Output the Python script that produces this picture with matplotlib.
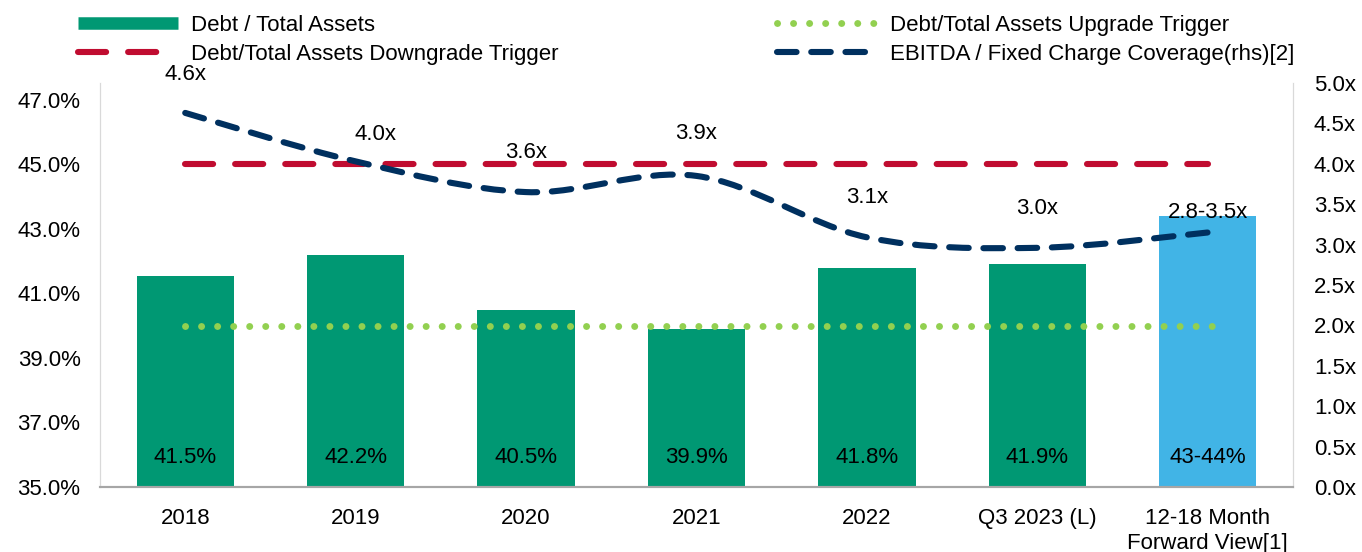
import matplotlib
matplotlib.use("Agg")
import matplotlib.pyplot as plt
from matplotlib.path import Path
from matplotlib.patches import PathPatch
from matplotlib.lines import Line2D
import numpy as np

plt.rcParams['font.family'] = ['Liberation Sans', 'DejaVu Sans']

categories = ["2018", "2019", "2020", "2021", "2022", "Q3 2023 (L)", "12-18 Month\nForward View[1]"]
debt_ratio = [41.55, 42.2, 40.5, 39.9, 41.8, 41.9, 43.4]
debt_labels = ["41.5%", "42.2%", "40.5%", "39.9%", "41.8%", "41.9%", "43-44%"]
coverage = [4.63, 4.03, 3.65, 3.85, 3.09, 2.96, 3.15]
coverage_labels = ["4.6x", "4.0x", "3.6x", "3.9x", "3.1x", "3.0x", "2.8-3.5x"]
downgrade_trigger = 45.0
upgrade_trigger = 40.0

GREEN = "#009873"
BLUE = "#41B4E6"
RED = "#C00C30"
NAVY = "#00305F"
LIME = "#92D050"
FS = 16

fig = plt.figure(figsize=(13.62, 5.52), dpi=100)
ax = fig.add_axes([100/1362, 1-487/552, (1293-100)/1362, (487-83)/552])
ax2 = ax.twinx()

x = np.arange(len(categories))
colors = [GREEN]*(len(categories)-1) + [BLUE]
ax.bar(x, np.array(debt_ratio) - 35, bottom=35, width=0.57, color=colors, zorder=2)
for xi, lab in zip(x, debt_labels):
    ax.text(xi, 35.9, lab, ha='center', va='center', fontsize=FS, color='black', zorder=5)

ax.plot([x[0], x[-1]], [downgrade_trigger]*2, color=RED, lw=4.4,
        dashes=(4.6, 3.6), dash_capstyle='round', zorder=3)
ax.plot([x[0], x[-1]+0.04], [upgrade_trigger]*2, color=LIME, lw=5.0,
        dashes=(0.01, 2.3), dash_capstyle='round', zorder=3)

# smoothed coverage line (cubic Bezier through the data points)
pts = np.column_stack([x.astype(float), np.array(coverage)])
verts = [tuple(pts[0])]
codes = [Path.MOVETO]
n = len(pts)
for i in range(n-1):
    p0 = pts[max(i-1, 0)]
    p1 = pts[i]
    p2 = pts[i+1]
    p3 = pts[min(i+2, n-1)]
    c1 = p1 + (p2 - p0)/6.0
    c2 = p2 - (p3 - p1)/6.0
    verts += [tuple(c1), tuple(c2), tuple(p2)]
    codes += [Path.CURVE4]*3
path = Path(verts, codes)
patch = PathPatch(path, fill=False, edgecolor=NAVY, lw=4.4, capstyle='round',
                  linestyle=(0, (3.2, 2.4)), zorder=4)
ax2.add_patch(patch)

offsets = [(0, 38), (20, 27), (0, 40), (0, 42), (0, 40), (0, 39), (0, 20)]
for xi, v, lab, off in zip(x, coverage, coverage_labels, offsets):
    ax2.annotate(lab, (xi, v), xytext=off, textcoords='offset pixels',
                 ha='center', va='center', fontsize=FS, color='black', zorder=6)

ax.set_xlim(-0.5, len(categories)-0.5)
ax.set_ylim(35, 47.52)
ax2.set_ylim(0, 5.0)
ax.set_yticks(np.arange(35, 47.1, 2))
ax.set_yticklabels([f"{v:.1f}%" for v in np.arange(35, 47.1, 2)])
ax2.set_yticks(np.arange(0, 5.01, 0.5))
ax2.set_yticklabels([f"{v:.1f}x" for v in np.arange(0, 5.01, 0.5)])
ax.set_xticks(x)
ax.set_xticklabels(categories, fontsize=FS, linespacing=1.25)

ax.tick_params(axis='y', length=0, pad=14, labelsize=FS)
ax2.tick_params(axis='y', length=0, pad=15, labelsize=FS)
ax.tick_params(axis='x', length=0, pad=15, labelsize=FS)

for a in (ax, ax2):
    a.spines['top'].set_visible(False)
    a.spines['left'].set_color('#D9D9D9')
    a.spines['right'].set_color('#D9D9D9')
    a.spines['bottom'].set_color('#A6A6A6')
    a.spines['bottom'].set_linewidth(1.5)
    a.set_facecolor('none')

handles = [
    Line2D([0], [0], color=GREEN, lw=9, solid_capstyle='butt'),
    Line2D([0], [0], color=RED, lw=4.4, dashes=(4.6, 3.6), dash_capstyle='round'),
    Line2D([0], [0], color=LIME, lw=5.0, dashes=(0.01, 2.3), dash_capstyle='round'),
    Line2D([0], [0], color=NAVY, lw=4.4, dashes=(3.2, 2.4), dash_capstyle='round'),
]
labels = ["Debt / Total Assets", "Debt/Total Assets Downgrade Trigger",
          "Debt/Total Assets Upgrade Trigger", "EBITDA / Fixed Charge Coverage(rhs)[2]"]
fig.legend(handles, labels, ncol=2, loc='upper left',
           bbox_to_anchor=(78/1362, 1-15/552), frameon=False, fontsize=FS,
           handlelength=4.5, handletextpad=0.58, columnspacing=9.85,
           labelspacing=0.36, borderpad=0, borderaxespad=0)

fig.savefig("out.png", dpi=100)
